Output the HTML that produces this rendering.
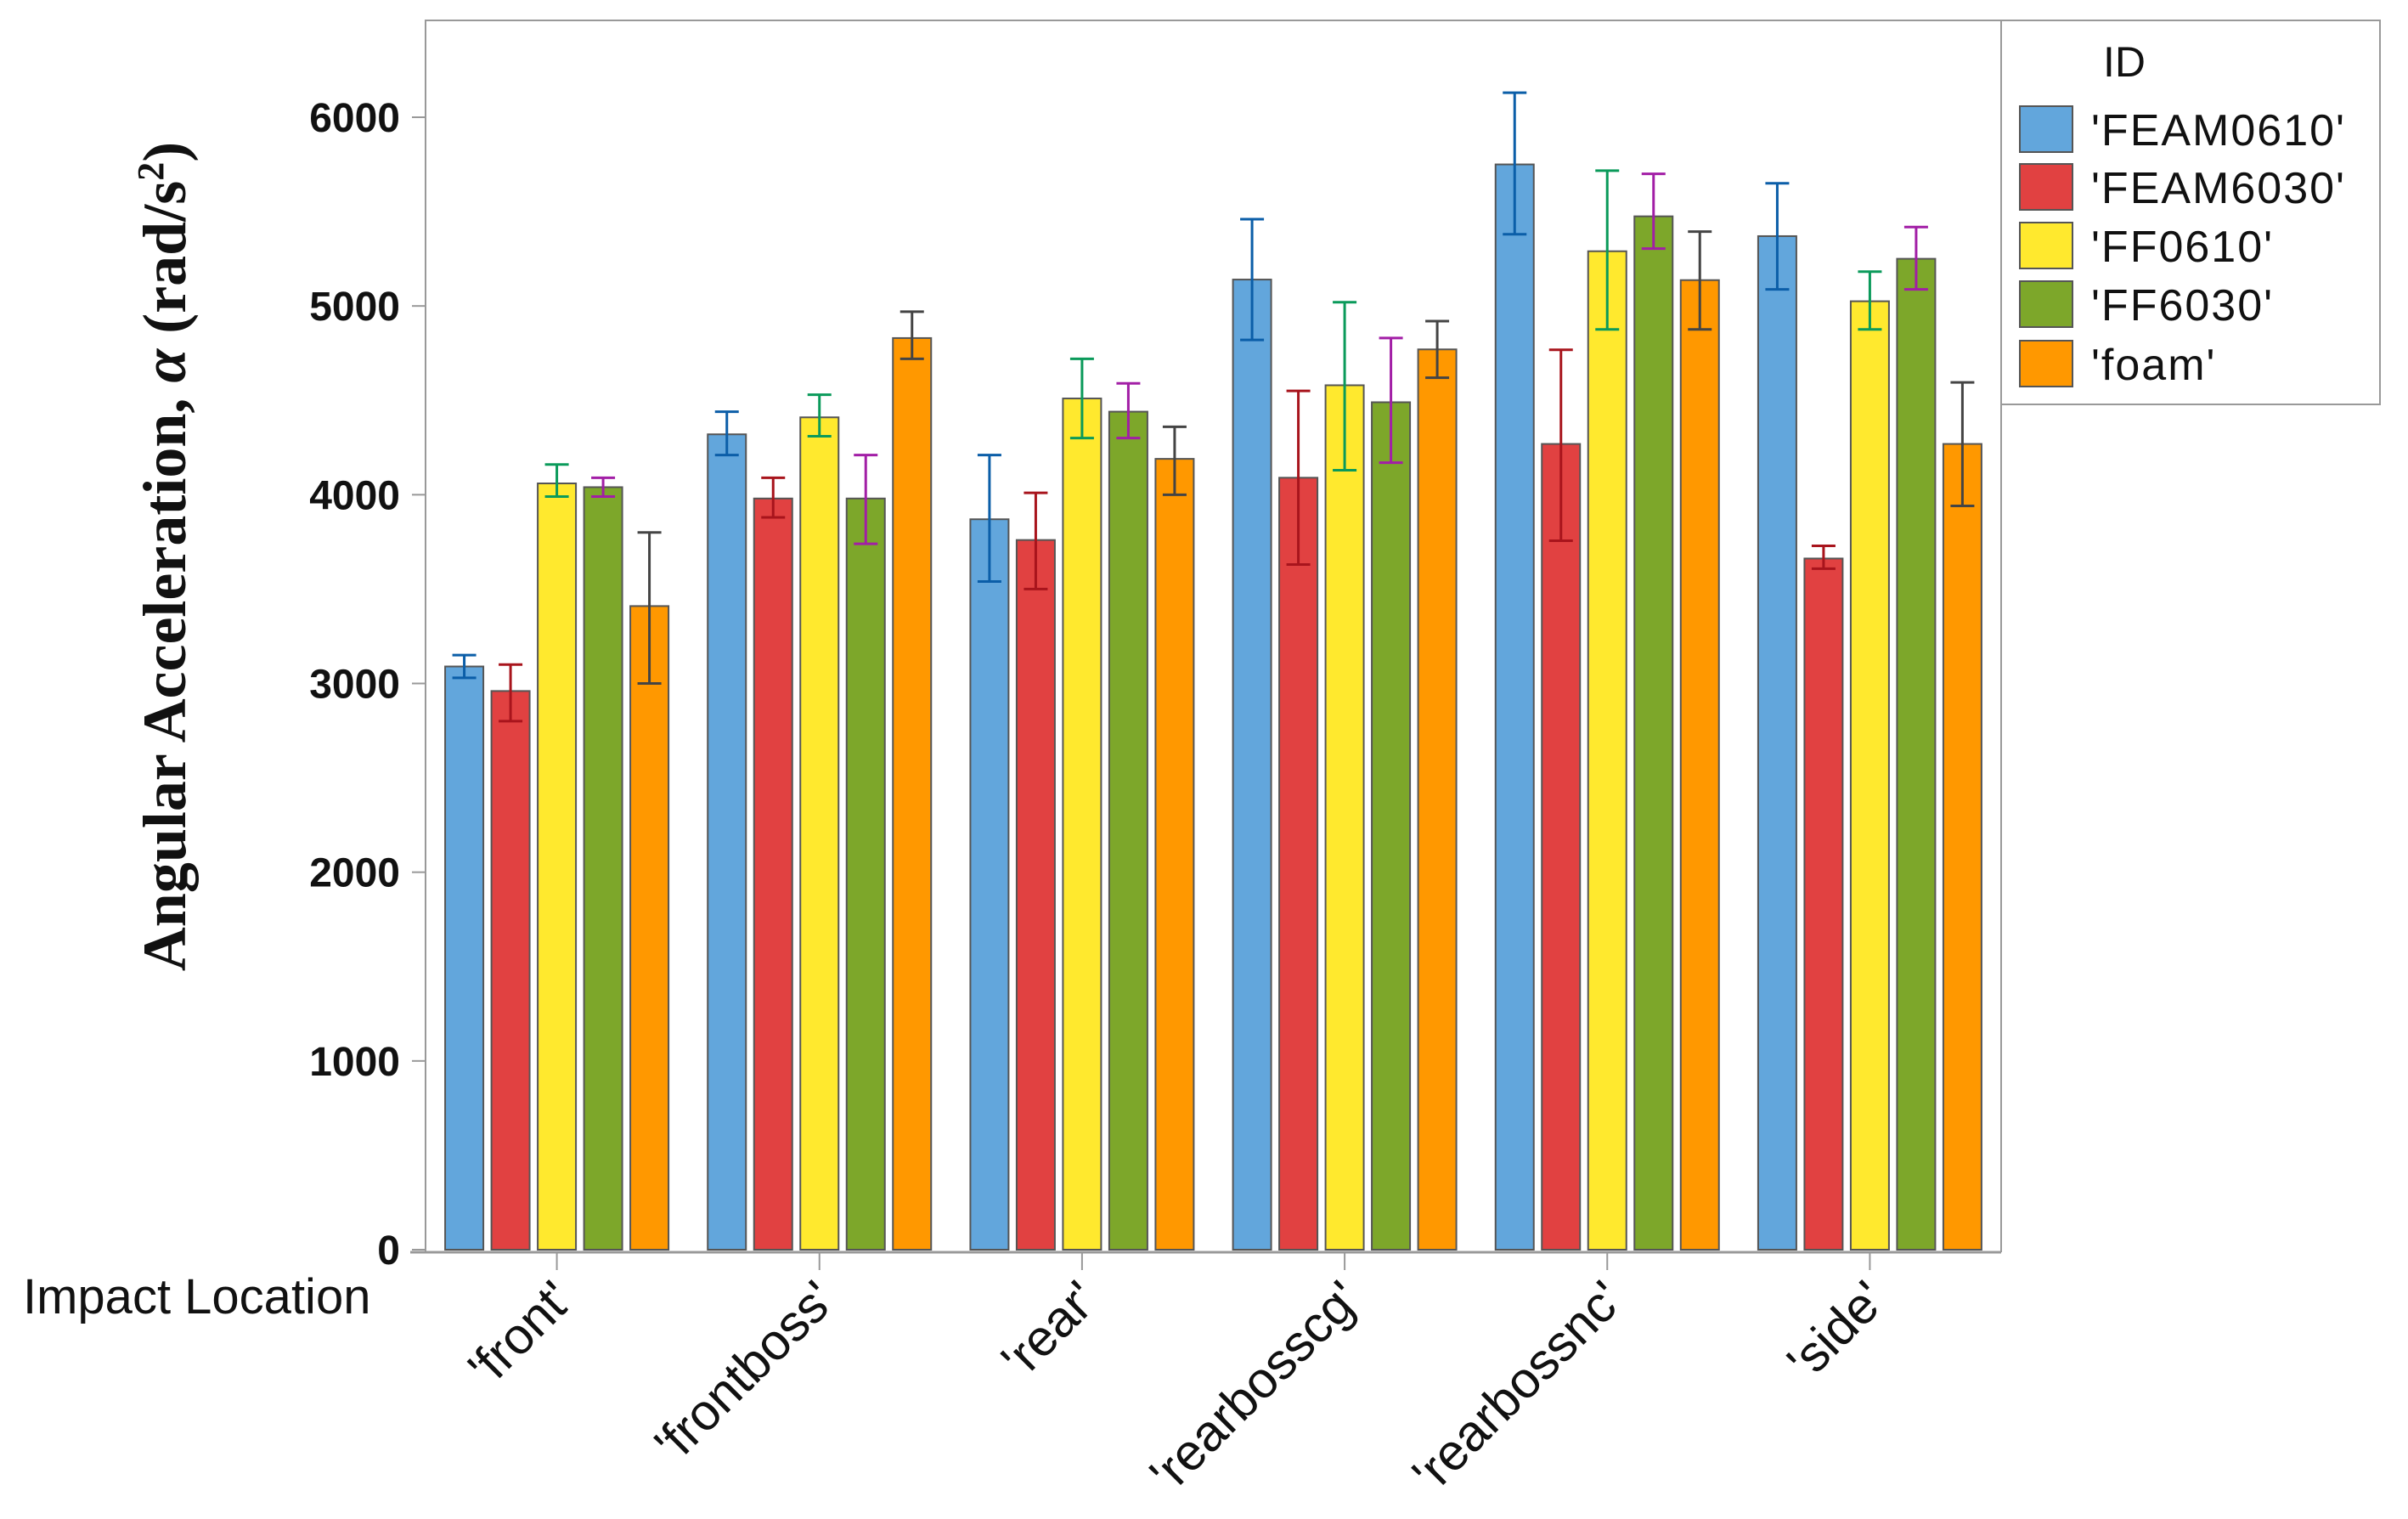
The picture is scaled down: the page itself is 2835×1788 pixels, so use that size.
<!DOCTYPE html>
<html><head><meta charset="utf-8"><style>
html,body{margin:0;padding:0;background:#fff;}
svg{display:block;}
</style></head><body>
<svg id="chart" width="2835" height="1788" viewBox="0 0 2835 1788" xmlns="http://www.w3.org/2000/svg">
<rect x="0" y="0" width="2835" height="1788" fill="#fff"/>
<g id="plot"></g>
<text transform="translate(218,655) rotate(-90)" text-anchor="middle" font-family="Liberation Serif, serif" font-weight="bold" font-size="72" fill="#111">Angular Acceleration, <tspan font-style="italic">α</tspan> (rad/s<tspan font-size="44" dy="-26">2</tspan><tspan dy="26">)</tspan></text>
<text x="27" y="1546" font-family="Liberation Sans, sans-serif" font-size="58" fill="#111">Impact Location</text>
<g>
<rect x="2356" y="24" width="446" height="452" fill="#fff" stroke="#999" stroke-width="2"/>
<text x="2476" y="90" font-family="Liberation Sans, sans-serif" font-size="50" fill="#111">ID</text>
<g id="legendItems"></g>
</g>
</svg>
<script>
const categories = ["'front'", "'frontboss'", "'rear'", "'rearbosscg'", "'rearbossnc'", "'side'"];
const seriesNames = ["'FEAM0610'", "'FEAM6030'", "'FF0610'", "'FF6030'", "'foam'"];
const feam0610 = [3090, 4320, 3870, 5140, 5750, 5370];
const feam0610Lo = [3030, 4210, 3540, 4820, 5380, 5088];
const feam0610Hi = [3150, 4440, 4210, 5460, 6130, 5650];
const feam6030 = [2960, 3980, 3760, 4090, 4269, 3662];
const feam6030Lo = [2800, 3880, 3500, 3630, 3756, 3608];
const feam6030Hi = [3100, 4090, 4010, 4550, 4768, 3729];
const ff0610 = [4060, 4410, 4510, 4580, 5290, 5025];
const ff0610Lo = [3990, 4310, 4300, 4130, 4876, 4876];
const ff0610Hi = [4160, 4530, 4720, 5020, 5717, 5182];
const ff6030 = [4040, 3980, 4440, 4490, 5475, 5250];
const ff6030Lo = [3990, 3740, 4300, 4170, 5304, 5088];
const ff6030Hi = [4090, 4210, 4590, 4830, 5700, 5418];
const foam = [3410, 4830, 4190, 4770, 5137, 4269];
const foamLo = [3000, 4720, 4000, 4620, 4876, 3941];
const foamHi = [3800, 4970, 4360, 4920, 5394, 4595];
const yTicks = [0, 1000, 2000, 3000, 4000, 5000, 6000];

const values = [feam0610, feam6030, ff0610, ff6030, foam];
const lows = [feam0610Lo, feam6030Lo, ff0610Lo, ff6030Lo, foamLo];
const highs = [feam0610Hi, feam6030Hi, ff0610Hi, ff6030Hi, foamHi];
const fills = ["#62a6dc", "#e14141", "#ffe92e", "#7da72a", "#ff9800"];
const errColors = ["#0b5ea8", "#a8141c", "#0a9a5a", "#a21ea6", "#444"];

const NS = "http://www.w3.org/2000/svg";
const L = 501, R = 2356, T = 24, B = 1471;
const yMin = 0, y6000 = 138;
function y(v){ return B - (v - yMin) / (6000 - yMin) * (B - y6000); }
const groupW = (R - L) / categories.length;
function groupCenter(i){ return L + groupW * (i + 0.5); }
const step = 54.5, barW = 45;
function barX(i, s){ return groupCenter(i) + (s - 2) * step - barW / 2; }

function mk(tag, attrs, parent){
  const e = document.createElementNS(NS, tag);
  for (const k in attrs) e.setAttribute(k, attrs[k]);
  parent.appendChild(e); return e;
}
const plot = document.getElementById('plot');
const frame = mk('path', {d:`M${L},${B+3} L${L},${T} L${R},${T} L${R},${B+3}`, fill:'none', stroke:'#999', 'stroke-width':2}, plot);


const xaxis = mk('line', {x1:L-18, x2:R, y1:B+3, y2:B+3, stroke:'#999', 'stroke-width':3}, plot);



yTicks.forEach(t => {
  const ty = y(t);
  const tk = mk('line', {x1:L-16, x2:L, y1:ty, y2:ty, stroke:'#999', 'stroke-width':2}, plot);
  
  
  const lb = mk('text', {x:L-30, y:ty+17, 'text-anchor':'end', 'font-family':'Liberation Sans, sans-serif', 'font-size':48, 'font-weight':'bold', fill:'#111'}, plot);
  lb.textContent = String(t);
  
  
});

categories.forEach((c, i) => {
  const cx = groupCenter(i);
  const tk = mk('line', {x1:cx, x2:cx, y1:B+3, y2:B+24, stroke:'#999', 'stroke-width':2}, plot);
  
  
  const lb = mk('text', {x:0, y:0, transform:`translate(${cx+22},${B+62}) rotate(-45)`, 'text-anchor':'end', 'font-family':'Liberation Sans, sans-serif', 'font-size':60, fill:'#111'}, plot);
  lb.textContent = c;
  
  
  values.forEach((arr, s) => {
    const v = arr[i];
    const bx = barX(i, s);
    const r = mk('rect', {x:bx, y:y(v), width:barW, height:B - y(v), fill:fills[s], stroke:'#555', 'stroke-width':2}, plot);
    
    
    const ex = bx + barW / 2;
    const lo = y(lows[s][i]), hi = y(highs[s][i]);
    const eb = mk('path', {d:`M${ex},${lo} L${ex},${hi} M${ex-14},${lo} L${ex+14},${lo} M${ex-14},${hi} L${ex+14},${hi}`, stroke:errColors[s], 'stroke-width':3, fill:'none'}, plot);
    
    
  });
});

const li = document.getElementById('legendItems');
const rowY = [152, 220, 289, 358, 428];
seriesNames.forEach((n, s) => {
  const sw = mk('rect', {x:2378, y:rowY[s]-27, width:62, height:54, fill:fills[s], stroke:'#555', 'stroke-width':2}, li);
  
  
  const t = mk('text', {x:2462, y:rowY[s]+19, 'font-family':'Liberation Sans, sans-serif', 'font-size':52, 'letter-spacing':'2', fill:'#111'}, li);
  t.textContent = n;
  
  
});
</script>
</body></html>
